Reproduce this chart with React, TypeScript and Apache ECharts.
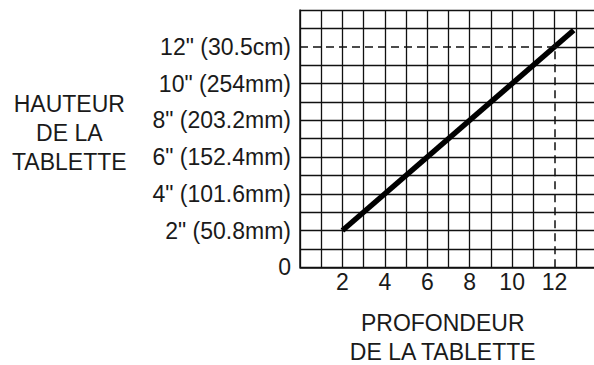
import React, { useEffect, useRef } from "react";
import * as echarts from "echarts";

// Data
const lineX = [2, 12.9];
const lineY = [2, 12.9];
const axisMax = 14;
const xTickValues = [2, 4, 6, 8, 10, 12];
const xTickLabels = ["2", "4", "6", "8", "10", "12"];
const yTickValues = [0, 2, 4, 6, 8, 10, 12];
const yTickLabels = [
  "0",
  '2" (50.8mm)',
  '4" (101.6mm)',
  '6" (152.4mm)',
  '8" (203.2mm)',
  '10" (254mm)',
  '12" (30.5cm)',
];
const guideValue = 12;
const yTitle = "HAUTEUR\nDE LA\nTABLETTE";
const xTitle = "PROFONDEUR\nDE LA TABLETTE";

const FONT = "'Liberation Sans', Arial, sans-serif";
const INK = "#1a1a1a";
const GRID = "#111";

export default function App() {
  const ref = useRef<HTMLDivElement>(null);
  useEffect(() => {
    if (!ref.current) return;
    const chart = echarts.init(ref.current, null, { renderer: "svg" });
    const splitColors: string[] = [];
    for (let v = 0; v <= axisMax; v++) {
      splitColors.push(v === guideValue ? "rgba(0,0,0,0)" : GRID);
    }
    const gridStyle = { color: splitColors, width: 1.3 };
    const solid = { color: GRID, width: 1.3, type: "solid" };
    chart.setOption({
      animation: false,
      backgroundColor: "#fff",
      textStyle: { fontFamily: FONT },
      grid: {
        left: 300,
        top: 10,
        height: 257.3,
        width: 297,
        containLabel: false,
        outerBoundsMode: "none",
      },
      xAxis: {
        type: "value",
        min: 0,
        max: axisMax,
        interval: 1,
        axisLine: { show: true, lineStyle: { color: GRID, width: 1.5 } },
        axisTick: { show: false },
        splitLine: { show: true, lineStyle: gridStyle },
        axisLabel: {
          margin: 3,
          fontSize: 23,
          color: INK,
          fontFamily: FONT,
          formatter: (v: number) => {
            const i = xTickValues.indexOf(v);
            return i >= 0 ? xTickLabels[i] : "";
          },
        },
      },
      yAxis: {
        type: "value",
        min: 0,
        max: axisMax,
        interval: 1,
        axisLine: { show: true, lineStyle: { color: GRID, width: 1.5 } },
        axisTick: { show: false },
        splitLine: { show: true, lineStyle: gridStyle },
        axisLabel: {
          margin: 9,
          fontSize: 23,
          color: INK,
          fontFamily: FONT,
          formatter: (v: number) => {
            const i = yTickValues.indexOf(v);
            return i >= 0 ? yTickLabels[i] : "";
          },
        },
      },
      series: [
        {
          type: "line",
          data: lineX.map((x, i) => [x, lineY[i]]),
          symbol: "none",
          lineStyle: { color: "#000", width: 5.5, cap: "butt" },
          markLine: {
            silent: true,
            symbol: "none",
            label: { show: false },
            lineStyle: { color: GRID, width: 1.5, type: [8, 5] },
            data: [
              [{ coord: [0, guideValue] }, { coord: [guideValue, guideValue] }],
              [{ coord: [guideValue, 0] }, { coord: [guideValue, guideValue] }],
              [
                { coord: [guideValue, guideValue], lineStyle: solid },
                { coord: [axisMax, guideValue] },
              ],
              [
                { coord: [guideValue, guideValue], lineStyle: solid },
                { coord: [guideValue, axisMax] },
              ],
            ],
          },
        },
      ],
      graphic: [
        {
          type: "text",
          left: 72 - 60,
          top: 89,
          style: {
            text: yTitle,
            x: 60,
            textAlign: "center",
            fontSize: 23,
            lineHeight: 29,
            fill: INK,
            fontFamily: FONT,
          },
        },
        {
          type: "text",
          left: 449 - 100,
          top: 308,
          style: {
            text: xTitle,
            x: 100,
            textAlign: "center",
            fontSize: 23,
            lineHeight: 29,
            fill: INK,
            fontFamily: FONT,
          },
        },
      ],
    });
    return () => chart.dispose();
  }, []);
  return (
    <div
      ref={ref}
      style={{ position: "fixed", left: 0, top: 0, width: 594, height: 365 }}
    />
  );
}
